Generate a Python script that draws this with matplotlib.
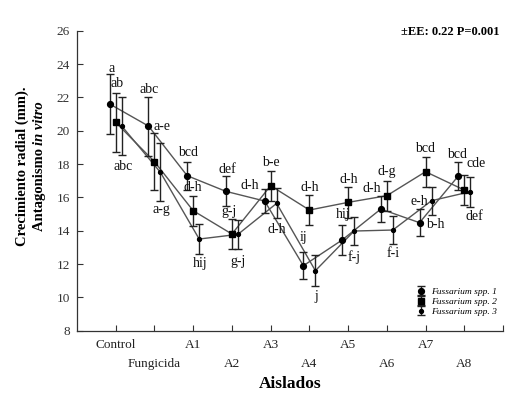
import matplotlib
matplotlib.use('Agg')
import matplotlib.pyplot as plt
import numpy as np

# ---------------- data ----------------
categories = ['Control', 'Fungicida', 'A1', 'A2', 'A3', 'A4', 'A5', 'A6', 'A7', 'A8']

s1_mean = [21.6, 20.28, 17.3, 16.36, 15.78, 11.9, 13.44, 15.3, 14.48, 17.28]
s1_err  = [1.8, 1.77, 0.85, 0.9, 0.7, 0.8, 0.9, 0.8, 0.8, 0.85]
s1_letters = ['a', 'abc', 'bcd', 'def', 'd-h', 'ij', 'hij', 'd-h', 'b-h', 'bcd']

s2_mean = [20.5, 18.14, 15.2, 13.8, 16.7, 15.24, 15.7, 16.1, 17.54, 16.44]
s2_err  = [1.75, 1.7, 0.9, 0.9, 0.9, 0.9, 0.95, 0.9, 0.9, 0.9]
s2_letters = ['ab', 'a-e', 'd-h', 'g-j', 'b-e', 'd-h', 'd-h', 'd-g', 'bcd', 'cde']

s3_mean = [20.28, 17.5, 13.5, 13.78, 15.64, 11.6, 13.98, 14.04, 15.8, 16.34]
s3_err  = [1.72, 1.74, 0.9, 0.86, 0.9, 0.94, 0.86, 0.86, 0.84, 0.9]
s3_letters = ['abc', 'a-g', 'hij', 'g-j', 'd-h', 'j', 'f-j', 'f-i', 'e-h', 'def']

series_names = ['Fussarium spp. 1', 'Fussarium spp. 2', 'Fussarium spp. 3']
yticks = [8, 10, 12, 14, 16, 18, 20, 22, 24, 26]

# ---------------- layout (label offsets in pixels) ----------------
s1_off = [(2, 36), (1, 37), (1, 23), (1, 22), (-15, 16), (0, 28), (1, 26), (-9, 21), (16, -2), (-1, 22)]
s2_off = [(1, 39), (8, 35), (0, 23), (-3, 23), (0, 23), (0, 23), (1, 23), (0, 24), (0, 23), (12, 27)]
s3_off = [(1, -40), (1, -37), (1, -24), (0, -27), (0, -26), (1, -26), (0, -26), (0, -23), (-12, -1), (4, -25)]

plt.rcParams['font.family'] = ['Liberation Serif', 'DejaVu Serif']

fig = plt.figure(figsize=(5.10, 3.98), dpi=100)
ax = fig.add_axes([77/510, 1 - 330.7/398, (503 - 77)/510, (330.7 - 30.7)/398])

x = np.arange(1, len(categories) + 1)
dx = 0.155
line_col = '#555555'

specs = [
    (s1_mean, s1_err, s1_letters, s1_off, -dx, 'o', 4.2),
    (s2_mean, s2_err, s2_letters, s2_off, 0.0, 's', 5.0),
    (s3_mean, s3_err, s3_letters, s3_off, dx, 'o', 2.8),
]

handles = []
for (m, e, lets, offs, sh, mk, ms), name in zip(specs, series_names):
    xs = x + sh
    ax.plot(xs, m, color=line_col, lw=1.0, zorder=2)
    h = ax.errorbar(xs, m, yerr=e, fmt=mk, ms=ms, color='black', mfc='black', mec='black',
                    ecolor='#222222', elinewidth=1.0, capsize=2.6, capthick=1.0, zorder=3,
                    label=name)
    handles.append(h)
    for xi, yi, t, (ox, oy) in zip(xs, m, lets, offs):
        ax.annotate(t, (xi, yi), xytext=(ox, oy), textcoords='offset pixels',
                    ha='center', va='center', fontsize=10, color='#111111', zorder=4)

ax.set_xlim(0, 11)
ax.set_ylim(8, 26)
ax.set_yticks(yticks)
ax.set_yticklabels([str(v) for v in yticks], fontsize=9.5)

# staggered category labels: major ticks -> first row, minor ticks -> second row
ax.set_xticks(list(x[0::2]) + [11])
ax.set_xticklabels(categories[0::2] + [''], fontsize=9.5)
ax.set_xticks(x[1::2], minor=True)
ax.set_xticklabels(categories[1::2], minor=True, fontsize=9.5)

ax.tick_params(axis='both', which='both', direction='in', length=4, width=0.8, colors='#333333')
ax.tick_params(axis='x', which='major', pad=6, labelcolor='#222222')
ax.tick_params(axis='x', which='minor', pad=20, labelcolor='#222222')
ax.tick_params(axis='y', labelcolor='#333333', pad=5)

for s in ['top', 'right']:
    ax.spines[s].set_visible(False)
for s in ['left', 'bottom']:
    ax.spines[s].set_color('#333333')
    ax.spines[s].set_linewidth(0.9)

ax.set_xlabel('Aislados', fontsize=12.5, fontweight='bold', labelpad=4)

# y label: two lines, second with bold-italic "in vitro"
fig.text(22/510, 1 - 166/398, 'Crecimiento radial (mm).', rotation=90, fontsize=10.5,
         fontweight='bold', ha='center', va='center')
renderer = fig.canvas.get_renderer()
ta = fig.text(40/510, 0, 'Antagonismo ', rotation=90, fontsize=10.5,
              fontweight='bold', ha='center', va='bottom')
tb = fig.text(40/510, 0, 'in vitro', rotation=90, fontsize=10.5,
              fontweight='bold', style='italic', ha='center', va='bottom')
ha_ = ta.get_window_extent(renderer).height
hb_ = tb.get_window_extent(renderer).height
fig_h = fig.get_figheight() * fig.dpi
center = 398 - 166
y0 = center - (ha_ + hb_) / 2
ta.set_y(y0 / fig_h)
tb.set_y((y0 + ha_) / fig_h)

fig.text(500/510, 1 - 32/398, '±EE: 0.22 P=0.001', fontsize=9, fontweight='bold',
         ha='right', va='center')

leg = ax.legend(handles=handles, loc='lower right', bbox_to_anchor=(1.0, 0.03),
                frameon=False, prop={'style': 'italic', 'size': 6.8},
                handlelength=1.6, handletextpad=0.3, labelspacing=0.15, borderaxespad=0.2)

fig.savefig('out.png', dpi=100)
